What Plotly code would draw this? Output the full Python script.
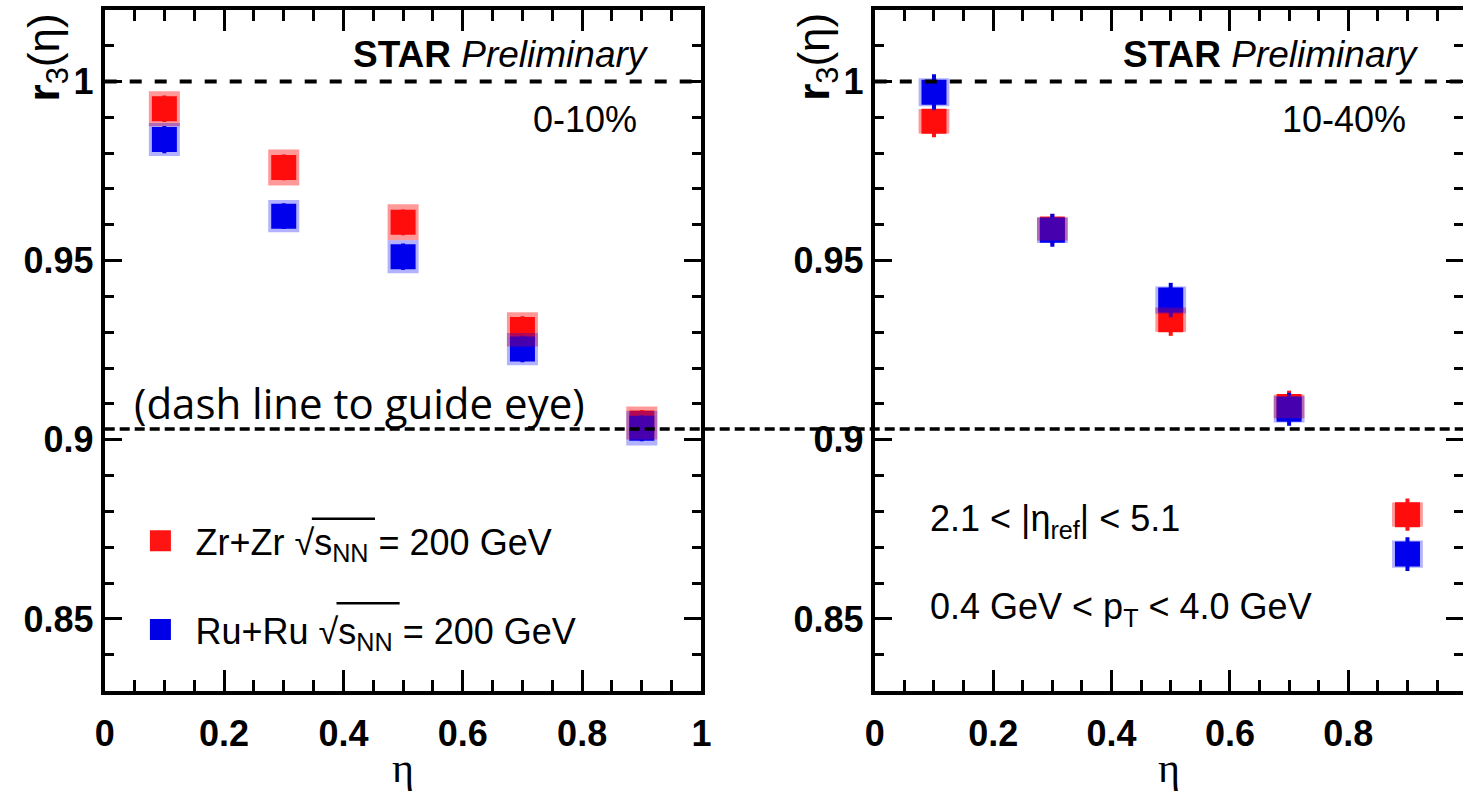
import plotly.graph_objects as go

# ---------------- data ----------------
eta = [0.1, 0.3, 0.5, 0.7, 0.9]

# 0-10% centrality
zr_c = [0.9924, 0.9760, 0.9607, 0.9308, 0.9047]
ru_c = [0.9838, 0.9624, 0.9511, 0.9253, 0.9032]
zr_c_stat = [0.0037, 0.0036, 0.0036, 0.0037, 0.0036]
ru_c_stat = [0.0038, 0.0036, 0.0037, 0.0037, 0.0036]
zr_c_sys = [0.0049, 0.0050, 0.0050, 0.0048, 0.0046]
ru_c_sys = [0.0046, 0.0045, 0.0046, 0.0045, 0.0048]

# 10-40% centrality
zr_p = [0.9889, 0.9588, 0.9335, 0.9093, 0.8791]
ru_p = [0.9970, 0.9585, 0.9390, 0.9085, 0.8681]
zr_p_stat = [0.0045, 0.0042, 0.0045, 0.0044, 0.0045]
ru_p_stat = [0.0050, 0.0046, 0.0048, 0.0046, 0.0047]
zr_p_sys = [0.0034, 0.0032, 0.0034, 0.0033, 0.0034]
ru_p_sys = [0.0039, 0.0036, 0.0038, 0.0037, 0.0038]

guide_line = 0.903
unity = 1.0

zr_label = "Zr+Zr √s<sub>NN</sub> = 200 GeV"
ru_label = "Ru+Ru √s<sub>NN</sub> = 200 GeV"

# ---------------- style ----------------
W, H = 1473, 791
RED = "rgb(255,20,20)"
BLUE = "rgb(0,0,230)"
RED_BOX = "rgba(255,0,0,0.40)"
BLUE_BOX = "rgba(0,0,255,0.30)"
FONT = "Liberation Sans, Arial, Helvetica, sans-serif"
BOX_HW = 0.026

left_px = (96, 701)
right_px = (876.7, 1473)
top_px, bot_px = 10, 703

fig = go.Figure()

def add_series(x, y, stat, color, name, xa, ya, show):
    fig.add_trace(go.Scatter(
        x=x, y=y, mode="markers", name=name, xaxis=xa, yaxis=ya,
        legendgroup=name, showlegend=show,
        marker=dict(symbol="square", size=20, color=color,
                    line=dict(width=5, color=color)),
        error_y=dict(type="data", array=stat, visible=True, color=color,
                     thickness=4, width=0),
    ))

add_series(eta, zr_c, zr_c_stat, RED, zr_label, "x", "y", True)
add_series(eta, ru_c, ru_c_stat, BLUE, ru_label, "x", "y", True)
add_series(eta, zr_p, zr_p_stat, RED, "Zr+Zr 10-40%", "x2", "y2", False)
add_series(eta, ru_p, ru_p_stat, BLUE, "Ru+Ru 10-40%", "x2", "y2", False)
fig.add_trace(go.Scatter(x=[], y=[], xaxis="x2", yaxis="y3", showlegend=False))

shapes = []
def add_boxes(x, y, sys, fill, xr, yr):
    for xi, yi, si in zip(x, y, sys):
        shapes.append(dict(type="rect", xref=xr, yref=yr, layer="above",
                           x0=xi - BOX_HW, x1=xi + BOX_HW, y0=yi - si, y1=yi + si,
                           fillcolor=fill, line=dict(width=0)))

add_boxes(eta, zr_c, zr_c_sys, RED_BOX, "x", "y")
add_boxes(eta, ru_c, ru_c_sys, BLUE_BOX, "x", "y")
add_boxes(eta, zr_p, zr_p_sys, RED_BOX, "x2", "y2")
add_boxes(eta, ru_p, ru_p_sys, BLUE_BOX, "x2", "y2")

# dashed guides
shapes.append(dict(type="line", xref="x", yref="y", x0=0, x1=1, y0=unity, y1=unity,
                   line=dict(color="black", width=4, dash="12px,13px")))
shapes.append(dict(type="line", xref="x2", yref="y2", x0=0, x1=1, y0=unity, y1=unity,
                   line=dict(color="black", width=4, dash="12px,13px")))
shapes.append(dict(type="line", xref="paper", yref="y", x0=left_px[0] / W, x1=1,
                   y0=guide_line, y1=guide_line,
                   line=dict(color="black", width=3.5, dash="10px,5px")))

# overline of the square-root sign in the legend texts
for x0, x1, yy in ((306, 370, 528), (331, 395, 614)):
    shapes.append(dict(type="line", xref="paper", yref="paper", x0=x0 / W, x1=x1 / W,
                       y0=1 - yy / H, y1=1 - yy / H, line=dict(color="black", width=2.5)))

def xaxis_cfg(domain, rng):
    return dict(domain=domain, range=rng, showgrid=False, zeroline=False,
                showline=True, linewidth=4, linecolor="black", mirror="ticks",
                ticks="inside", ticklen=21, tickwidth=3, tickcolor="black",
                tick0=0, dtick=0.2, tickformat="~g", ticklabelstandoff=8,
                tickfont=dict(family=FONT, size=36, color="black", weight="bold"),
                minor=dict(ticks="inside", ticklen=11, tickwidth=3, dtick=0.05,
                           tickcolor="black", showgrid=False),
                title=dict(text="η", standoff=8,
                           font=dict(family="Liberation Serif, DejaVu Serif, serif",
                                     size=42, color="black")))

def yaxis_cfg(domain, anchor, mirror):
    return dict(domain=domain, range=[0.83, 1.02], anchor=anchor, showgrid=False,
                zeroline=False, showline=True, linewidth=4, linecolor="black",
                mirror=mirror, ticks="inside", ticklen=17, tickwidth=3,
                tickcolor="black", tick0=0.85, dtick=0.05, tickformat="~g",
                tickfont=dict(family=FONT, size=36, color="black", weight="bold"),
                minor=dict(ticks="inside", ticklen=9, tickwidth=3, dtick=0.01,
                           tickcolor="black", showgrid=False))

ydom = [(H - bot_px) / H, (H - top_px) / H]
xdom_l = [left_px[0] / W, left_px[1] / W]
xdom_r = [right_px[0] / W, 1.0]
xr_right = (right_px[1] - right_px[0]) / 600.0

layout = dict(
    width=W, height=H, margin=dict(l=0, r=0, t=0, b=0),
    paper_bgcolor="white", plot_bgcolor="white",
    xaxis=xaxis_cfg(xdom_l, [0, 1]),
    xaxis2=xaxis_cfg(xdom_r, [0, xr_right]),
    yaxis=yaxis_cfg(ydom, "x", "ticks"),
    yaxis2=yaxis_cfg(ydom, "x2", False),
    yaxis3=dict(range=[0.83, 1.02], overlaying="y2", anchor="x2", side="right",
                showgrid=False, zeroline=False, showline=False, showticklabels=False,
                ticks="inside", ticklen=17, tickwidth=3, tickcolor="black",
                tick0=0.85, dtick=0.05,
                minor=dict(ticks="inside", ticklen=9, tickwidth=3, dtick=0.01,
                           tickcolor="black", showgrid=False)),
    shapes=shapes,
    showlegend=True,
    legend=dict(x=117 / W, y=1 - 520 / H, xanchor="left", yanchor="top",
                bgcolor="rgba(0,0,0,0)", traceorder="grouped", tracegroupgap=39,
                itemwidth=60,
                font=dict(family=FONT, size=36, color="black"),
                itemsizing="trace"),
)
fig.update_layout(**layout)

ann = []
def txt(text, x, y, size=36, family=FONT, xanchor="left", angle=0):
    ann.append(dict(text=text, x=x / W, y=1 - y / H, xref="paper", yref="paper",
                    showarrow=False, xanchor=xanchor, yanchor="middle", textangle=angle,
                    font=dict(family=family, size=size, color="black")))

txt("<b>r</b><sub>3</sub>(η)", 37, 58, size=44, angle=-90, xanchor="center")
txt("<b>r</b><sub>3</sub>(η)", 818, 58, size=44, angle=-90, xanchor="center")
txt("<b>STAR</b> <i>Preliminary</i>", 650, 55, size=37, xanchor="right")
txt("<b>STAR</b> <i>Preliminary</i>", 1430, 55, size=37, xanchor="right")
txt("0-10%", 638, 122, size=36, xanchor="right")
txt("10-40%", 1417, 122, size=36, xanchor="right")
txt("(dash line to guide eye)", 124, 410, size=42, family="Open Sans, Lato, sans-serif")
txt("2.1 < |η<sub>ref</sub>| < 5.1", 931, 530, size=36)
txt("0.4 GeV < p<sub>T</sub> < 4.0 GeV", 931, 620, size=36)
fig.update_layout(annotations=ann)

fig.write_html("out.html")
